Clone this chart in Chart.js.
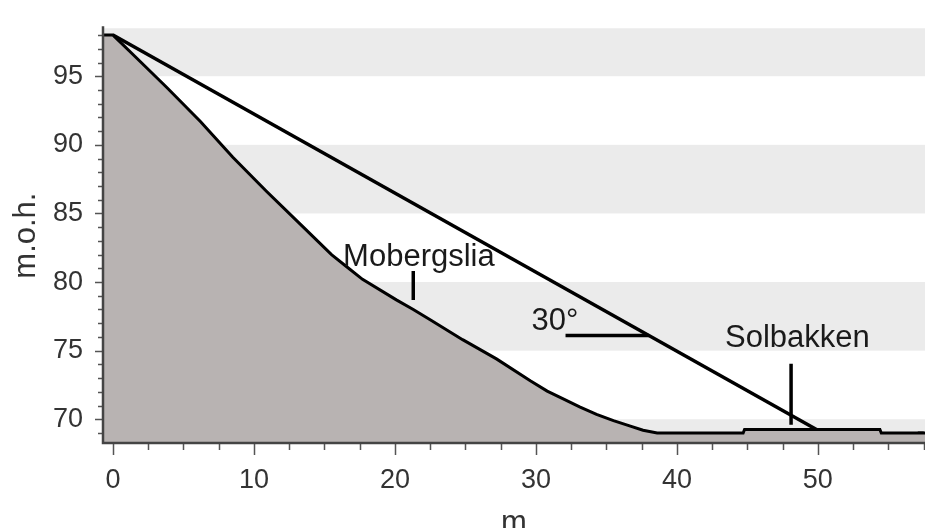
<!DOCTYPE html>
<html>
<head>
<meta charset="utf-8">
<script src="https://cdn.jsdelivr.net/npm/chart.js@4.4.1/dist/chart.umd.min.js"></script>
<style>
  html, body { margin: 0; padding: 0; overflow: hidden; background: #fff; }
  #wrap { width: 925px; height: 545px; }
</style>
</head>
<body>
<div id="wrap"><canvas id="profile" width="925" height="545"></canvas></div>
<script>
// --- terrain profile (m along slope, m.o.h.) ---
const groundX = [-0.71, 0, 1.4, 3.8, 6.2, 8.5, 10.9, 13.3, 15.5, 16.6, 17.7, 20.1, 21.3, 22.5, 24.8, 27.2, 29.6, 30.8, 31.9, 33.1, 34.3, 35.5, 36.7, 37.6, 38.6, 44.7, 44.8, 54.4, 54.5, 57.6];
const groundY = [98.0, 98.0, 96.6, 94.2, 91.7, 89.1, 86.6, 84.2, 82.0, 81.1, 80.2, 78.7, 78.0, 77.25, 75.8, 74.4, 72.8, 72.05, 71.5, 70.9, 70.35, 69.9, 69.5, 69.2, 69.0, 69.0, 69.25, 69.25, 69.0, 69.0];

// 30 degree line and its angle mark
const slopeX = [0, 50];
const slopeY = [98.0, 69.2];
const angleX = [32.1, 38.0];
const angleY = [76.1, 76.1];

// place markers
const markerX = [21.3, 48.1];
const markerTop = [80.8, 74.05];
const markerBottom = [78.7, 69.6];

// end of profile
const endX = [57.3, 57.3];
const endY = [69.1, 68.3];

// text annotations (anchor = centre x, baseline y, in data units)
const labelTexts = ['Mobergslia', '30°', 'Solbakken'];
const labelX = [21.7, 31.35, 48.55];
const labelY = [81.15, 76.53, 75.26];

const xTickLabels = [0, 10, 20, 30, 40, 50];
const yTickLabels = [70, 75, 80, 85, 90, 95];
const xMinorStep = 2.5;
const yMinorStep = 1;
const bandRanges = [[65, 70], [75, 80], [85, 90], [95, 100]];

const FONT = '"Liberation Sans", Arial, sans-serif';
const pts = (xs, ys) => xs.map((x, i) => ({ x, y: ys[i] }));

const bandsPlugin = {
    id: 'bands',
    beforeDraw(chart) {
        const { ctx, chartArea: a, scales: { y } } = chart;
        ctx.save();
        ctx.beginPath();
        ctx.rect(a.left, a.top, a.right - a.left, a.bottom - a.top);
        ctx.clip();
        ctx.fillStyle = '#ebebeb';
        bandRanges.forEach(([lo, hi]) => {
            const y1 = y.getPixelForValue(hi);
            const y2 = y.getPixelForValue(lo);
            ctx.fillRect(a.left, y1, a.right - a.left, y2 - y1);
        });
        ctx.restore();
    }
};

const axesPlugin = {
    id: 'axesAndLabels',
    afterDatasetsDraw(chart) {
        const { ctx, chartArea: a, scales: { x, y } } = chart;
        ctx.save();

        // ticks
        ctx.strokeStyle = '#555';
        ctx.lineWidth = 1.5;
        ctx.beginPath();
        for (let v = Math.ceil(x.min / xMinorStep) * xMinorStep; v <= x.max; v += xMinorStep) {
            const px = Math.round(x.getPixelForValue(v)) + 0.5;
            const len = v % 10 === 0 ? 12 : 7;
            ctx.moveTo(px, a.bottom);
            ctx.lineTo(px, a.bottom + len);
        }
        for (let v = Math.ceil(y.min); v <= y.max; v += yMinorStep) {
            const py = Math.round(y.getPixelForValue(v)) + 0.5;
            const len = v % 5 === 0 ? 8 : 5;
            ctx.moveTo(a.left, py);
            ctx.lineTo(a.left - len, py);
        }
        ctx.stroke();

        // axis lines
        ctx.strokeStyle = '#444';
        ctx.lineWidth = 2.5;
        ctx.beginPath();
        ctx.moveTo(a.left, a.top - 2);
        ctx.lineTo(a.left, a.bottom);
        ctx.lineTo(a.right, a.bottom);
        ctx.stroke();

        // annotations
        ctx.fillStyle = '#1a1a1a';
        ctx.font = '31px ' + FONT;
        ctx.textAlign = 'center';
        ctx.textBaseline = 'alphabetic';
        labelTexts.forEach((t, i) => {
            ctx.fillText(t, x.getPixelForValue(labelX[i]), y.getPixelForValue(labelY[i]));
        });
        ctx.restore();
    }
};

const lineStyle = { showLine: true, pointRadius: 0, borderColor: '#000', tension: 0, fill: false };

new Chart(document.getElementById('profile'), {
    type: 'scatter',
    data: {
        datasets: [
            { ...lineStyle, data: pts(groundX, groundY), borderWidth: 3, fill: 'start', backgroundColor: '#b8b3b2' },
            { ...lineStyle, data: pts(slopeX, slopeY), borderWidth: 3.5 },
            { ...lineStyle, data: pts(angleX, angleY), borderWidth: 3.5 },
            { ...lineStyle, data: pts([markerX[0], markerX[0]], [markerTop[0], markerBottom[0]]), borderWidth: 3.5 },
            { ...lineStyle, data: pts([markerX[1], markerX[1]], [markerTop[1], markerBottom[1]]), borderWidth: 3.5 },
            { ...lineStyle, data: pts(endX, endY), borderWidth: 6 }
        ]
    },
    options: {
        responsive: false,
        animation: false,
        devicePixelRatio: 1,
        layout: { padding: { top: 17, right: 0, left: 0, bottom: 0 } },
        plugins: { legend: { display: false }, tooltip: { enabled: false } },
        scales: {
            x: {
                type: 'linear',
                min: -0.71,
                max: 57.6,
                afterBuildTicks: s => { s.ticks = xTickLabels.map(v => ({ value: v })); },
                afterFit: s => { s.height = 102; },
                grid: { drawOnChartArea: false, drawTicks: true, tickLength: 12, tickColor: 'rgba(0,0,0,0)' },
                border: { display: false },
                ticks: { autoSkip: false, maxRotation: 0, padding: 9, color: '#333', font: { family: FONT, size: 27 } },
                title: { display: true, text: 'm', color: '#333', font: { family: FONT, size: 31 }, padding: { top: 0, bottom: 3 } }
            },
            y: {
                min: 68.27,
                max: 98.5,
                afterBuildTicks: s => { s.ticks = yTickLabels.map(v => ({ value: v })); },
                afterFit: s => { s.width = 103; },
                grid: { drawOnChartArea: false, drawTicks: true, tickLength: 8, tickColor: 'rgba(0,0,0,0)' },
                border: { display: false },
                ticks: { autoSkip: false, padding: 12, color: '#333', font: { family: FONT, size: 27 } },
                title: { display: true, text: 'm.o.h.', color: '#333', font: { family: FONT, size: 31 }, padding: { top: 8, bottom: 0 } }
            }
        }
    },
    plugins: [bandsPlugin, axesPlugin]
});
</script>
</body>
</html>
